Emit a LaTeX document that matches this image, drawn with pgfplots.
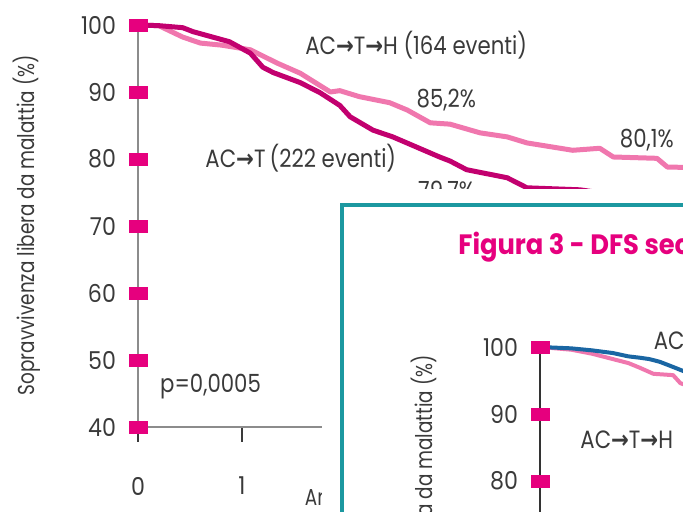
\documentclass[border=0pt]{standalone}
\usepackage{pgfplots}
\pgfplotsset{compat=1.18}
\usepackage{fontspec}
\setmainfont{Poppins}[FakeStretch=0.8]
\newfontfamily\lblfont{Poppins}[FakeStretch=0.85]
\newfontfamily\tickfont{Poppins}[FakeStretch=0.9]
\newfontfamily\titlefont{Poppins}[FakeStretch=0.92]
\newfontfamily\arrowfont{DejaVu Sans}[FakeStretch=0.85]
\newcommand{\ra}{{\arrowfont\bfseries\char"2192}}

\definecolor{mag}{HTML}{E6007E}
\definecolor{darkmag}{HTML}{C2006F}
\definecolor{lightpink}{HTML}{F077AE}
\definecolor{frameteal}{HTML}{1C98A0}
\definecolor{dfsblue}{HTML}{1A66A3}
\definecolor{txt}{HTML}{3A3A3A}
\definecolor{axgray}{HTML}{8C8C8C}

\pgfplotsset{
  km/.style={
    scale only axis, width=312pt, height=201pt,
    xmin=0, xmax=6, ymin=40, ymax=100,
    axis lines=left, axis line style={-},
    xtick={0,...,6}, ytick={40,50,...,100},
    tick align=outside, major tick length=7.5pt,
    ytick style={draw=none},
    xtick style={draw=txt, line width=1pt},
    yticklabel style={xshift=0pt, text=txt},
    xticklabel style={anchor=north, yshift=-14pt, text=txt},
    /pgf/number format/assume math mode=true,
    ticklabel style={font=\tickfont\fontsize{12.3}{14}\selectfont},
    label style={font=\fontsize{11.5}{13}\selectfont, text=txt},
    clip=false,
  },
  ysquares/.style={only marks, mark=square*, mark size=3pt, color=mag,
    mark options={xscale=1.5}},
  curve/.style={line width=2.5pt, line join=round, line cap=round},
}
\tikzset{lbl/.style={text=txt, inner sep=0pt,
  font=\lblfont\fontsize{12.5}{14}\selectfont}}

\begin{document}
\begin{tikzpicture}
\path[use as bounding box] (0pt,0pt) rectangle (341.5pt,256pt);
\clip (0pt,0pt) rectangle (341.5pt,256pt);

% ---- main Kaplan-Meier plot ----
\begin{axis}[km, at={(69pt,42.5pt)}, anchor=south west,
  axis line style={draw=axgray, line width=0.9pt},
  ylabel={Sopravvivenza libera da malattia (\%)},
  ylabel style={at={(axis description cs:-0.178,0.502)}, anchor=center},
  xlabel={Anni},
  xlabel style={at={(axis description cs:0.30,-0.174)}, anchor=center},
]
% AC->T->H
\addplot[curve, lightpink] coordinates {
 (0,100) (0.2,99.9) (0.43,98.2) (0.6,97.3) (0.8,97.0) (1.08,96.3)
 (1.34,94.3) (1.56,92.8) (1.85,90.0) (1.94,90.2) (2.13,89.3) (2.42,88.4)
 (2.59,87.3) (2.81,85.4) (3.0,85.2) (3.29,83.9) (3.55,83.3) (3.74,82.4)
 (4.18,81.3) (4.44,81.6) (4.57,80.3) (4.99,80.1) (5.09,78.8) (5.4,78.7)
 (6,78.2)};
% AC->T
\addplot[curve, darkmag] coordinates {
 (0,100) (0.2,99.9) (0.43,99.6) (0.53,99.0) (0.88,97.5) (1.08,95.8)
 (1.2,93.7) (1.3,92.9) (1.56,91.4) (1.75,89.9) (1.94,88.0) (2.04,86.3)
 (2.26,84.3) (2.45,83.3) (2.9,80.3) (3.0,79.7) (3.16,78.4) (3.55,77.2)
 (3.74,75.7) (4.25,75.4) (4.6,74.6) (5.2,73.4) (6,72.5)};
\addplot[ysquares] coordinates {(0,40) (0,50) (0,60) (0,70) (0,80) (0,90) (0,100)};

\node[lbl, anchor=west] at (axis cs:1.605,97.0) {AC\ra T\ra H (164 eventi)};
\node[lbl, anchor=west] at (axis cs:0.645,80.1) {AC\ra T\,(222 eventi)};
\node[lbl, anchor=west] at (axis cs:2.675,88.8) {85,2\%};
\node[lbl, anchor=west] at (axis cs:4.63,82.8) {80,1\%};
\node[lbl, anchor=west] at (axis cs:2.69,75.0) {79,7\%};
\node[lbl, anchor=west] at (axis cs:0.21,46.1) {p=0,0005};
\end{axis}

% ---- inset panel ----
\fill[white] (161pt,161.5pt) rectangle (360pt,-10pt);
\draw[frameteal, line width=1.6pt] (171pt,153.5pt) rectangle (370pt,-20pt);
\node[anchor=base west, inner sep=0pt, text=mag,
  font=\titlefont\fontsize{14}{16}\selectfont\bfseries]
  at (229pt,128.5pt) {Figura 3 - DFS secondo lo stato};

\begin{axis}[km, at={(270pt,-118.5pt)}, anchor=south west,
  axis line style={draw=black!80, line width=0.8pt},
  ylabel={Sopravvivenza libera da malattia (\%)},
  ylabel style={at={(axis description cs:-0.184,0.557)}, anchor=center},
]
\addplot[curve, line width=2pt, lightpink] coordinates {
 (0,100) (0.3,99.6) (0.5,99.0) (0.7,98.2) (0.85,97.6) (0.96,96.9)
 (1.09,96.0) (1.28,95.8) (1.35,94.6) (1.5,93.8) (1.8,92.5)};
\addplot[curve, line width=2pt, dfsblue] coordinates {
 (0,100) (0.3,99.8) (0.5,99.5) (0.7,99.1) (0.85,98.6) (0.96,98.4)
 (1.05,98.2) (1.15,97.8) (1.25,97.2) (1.38,96.4) (1.5,95.8) (1.8,94.9)};
\addplot[ysquares] coordinates {(0,40) (0,50) (0,60) (0,70) (0,80) (0,90) (0,100)};
\node[lbl, anchor=west] at (axis cs:1.09,101.0) {AC\ra T};
\node[lbl, anchor=west] at (axis cs:0.385,86.1) {AC\ra T\ra H};
\end{axis}
\end{tikzpicture}
\end{document}
